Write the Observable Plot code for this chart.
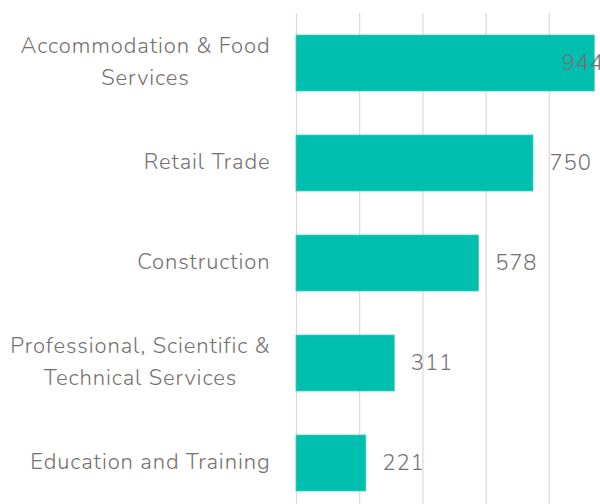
<!DOCTYPE html>
<html>
<head>
<meta charset="utf-8">
<script src="https://cdn.jsdelivr.net/npm/d3@7"></script>
<script src="https://cdn.jsdelivr.net/npm/@observablehq/plot@0.6"></script>
<style>
  html, body { margin: 0; padding: 0; background: #fff; }
  #chart { width: 600px; height: 504px; overflow: hidden; position: relative; }
  #chart svg { display: block; max-width: none; }
</style>
</head>
<body>
<div id="chart"></div>
<script>
const categories = [
  "Accommodation & Food\nServices",
  "Retail Trade",
  "Construction",
  "Professional, Scientific &\nTechnical Services",
  "Education and Training"
];
const values = [944, 750, 578, 311, 221];
const xTicks = [0, 200, 400, 600, 800, 1000];

const data = categories.map((c, i) => ({category: c, value: values[i]}));
const textColor = "#767171";
const font = "Nunito, Lato, 'Open Sans', sans-serif";

const plot = Plot.plot({
  width: 612,
  height: 513,
  marginLeft: 296,
  marginRight: 0,
  marginTop: 13,
  marginBottom: 0,
  style: {fontFamily: font, fontSize: "22px", color: textColor, background: "transparent", letterSpacing: "0.9px"},
  x: {domain: [0, 1000], axis: null},
  y: {domain: categories, paddingInner: 0.44, paddingOuter: 0.22, axis: null, label: null},
  marks: [
    Plot.gridX(xTicks, {stroke: "#d9d9d9", strokeOpacity: 1, strokeWidth: 1.2}),
    Plot.barX(data, {x: "value", y: "category", fill: "#00BFAE", stroke: "#3fcfc1", strokeWidth: 0.8}),
    Plot.text(data, {x: "value", y: "category", text: d => String(d.value), textAnchor: "start", dx: 16, dy: -1,
      fill: textColor, fontSize: 22, fontWeight: 300, className: "value-labels"}),
    Plot.axisY({tickSize: 0, tickPadding: 26, fontSize: 22, fontWeight: 300, lineHeight: 1.45, dy: -5, fill: textColor, label: null})
  ]
});

document.getElementById("chart").appendChild(plot);

// Center the lines of multi-line category labels within their right-aligned block
plot.querySelectorAll("text").forEach(t => {
  const spans = t.querySelectorAll("tspan");
  if (spans.length > 1) {
    const widths = Array.from(spans, s => s.getComputedTextLength());
    const W = Math.max(...widths);
    spans.forEach((s, i) => s.setAttribute("x", -(W - widths[i]) / 2));
  }
});

// Keep value labels inside the chart area (like the original, where 944 is pulled back)
const limit = 604;
plot.querySelectorAll(".value-labels text").forEach(t => {
  const b = t.getBBox();
  const m = t.getCTM();
  const right = (m ? m.e : 0) + b.x + b.width;
  if (right > limit) {
    const cur = parseFloat(t.getAttribute("dx") || 0);
    t.setAttribute("dx", cur - (right - limit));
  }
});
</script>
</body>
</html>
